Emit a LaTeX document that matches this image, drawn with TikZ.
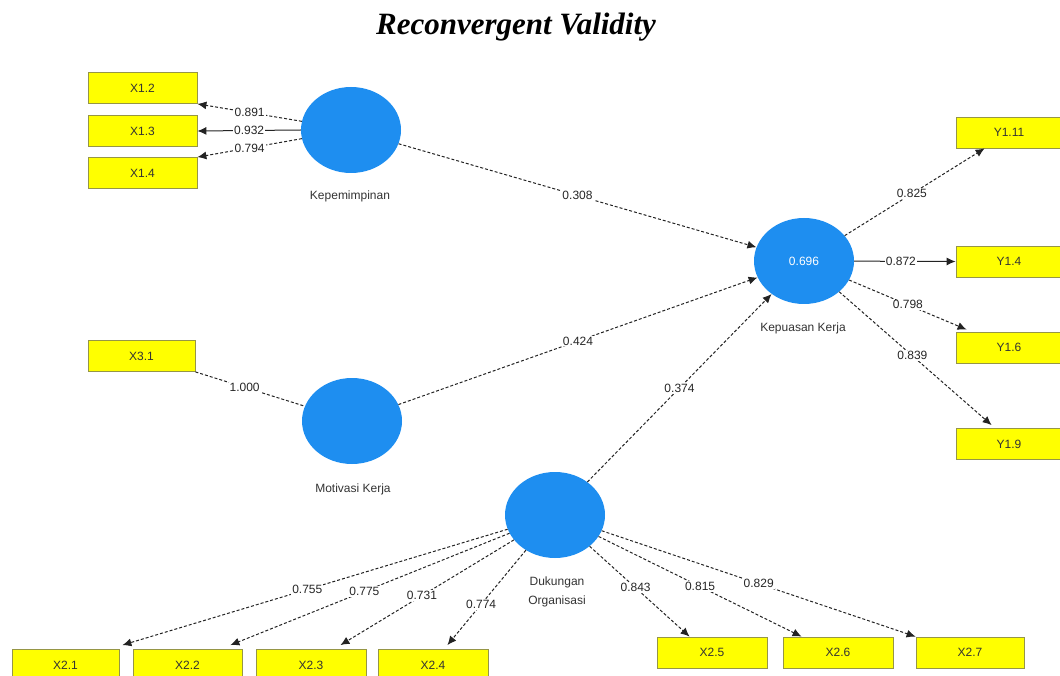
\documentclass[tikz,border=0pt]{standalone}
\usepackage{fontspec}
\setmainfont{Liberation Serif}
\setsansfont{Liberation Sans}
\usetikzlibrary{arrows.meta,shapes.geometric}
\definecolor{lvblue}{RGB}{30,142,240}
\definecolor{mvyellow}{RGB}{255,255,0}
\definecolor{mvborder}{RGB}{150,150,70}
\definecolor{lnk}{RGB}{35,35,35}
\begin{document}
\begin{tikzpicture}[x=1pt,y=-1pt,
  every node/.style={font=\sffamily\fontsize{12}{14}\selectfont},
  mv/.style={draw=mvborder,line width=0.8pt,fill=mvyellow,minimum height=31pt,inner sep=0pt,text=black!80},
  lv/.style={ellipse,fill=lvblue,minimum width=100pt,minimum height=86pt,inner sep=0pt},
  lvlab/.style={text=black!80,align=center},
  dsh/.style={draw=lnk,line width=1pt,dash pattern=on 3pt off 2pt},
  sol/.style={draw=lnk,line width=1pt},
  tip/.style={-{Latex[length=9pt,width=8pt]}},
  wt/.style={fill=white,inner sep=1pt,text=black!85}
]
\useasboundingbox (0,0) rectangle (1060,676);
\clip (0,0) rectangle (1060,676);

% title
\node[font=\rmfamily\bfseries\itshape\fontsize{31}{36}\selectfont] (title) at (516,27) {Reconvergent Validity};

% latent variables
\node[lv] (kep) at (351,130) {};
\node[lvlab] (kepl) at (350,196) {Kepemimpinan};
\node[lv] (mot) at (352,421) {};
\node[lvlab] (motl) at (353,489) {Motivasi Kerja};
\node[lv,text=white] (kpu) at (804,261) {0.696};
\node[lvlab] (kpul) at (803,328) {Kepuasan Kerja};
\node[lv] (duk) at (555,515) {};
\node[lvlab,font=\sffamily\fontsize{12}{19}\selectfont] (dukl) at (557,592) {Dukungan\\Organisasi};

% indicators
\node[mv,minimum width=109pt] (x12) at (142.5,88) {X1.2};
\node[mv,minimum width=109pt] (x13) at (142.5,131) {X1.3};
\node[mv,minimum width=109pt] (x14) at (142.5,173) {X1.4};
\node[mv,minimum width=107pt] (x31) at (141.5,356) {X3.1};
\node[mv,minimum width=106pt] (y111) at (1009,132.5) {Y1.11};
\node[mv,minimum width=106pt] (y14) at (1009,261.5) {Y1.4};
\node[mv,minimum width=106pt] (y16) at (1009,347.5) {Y1.6};
\node[mv,minimum width=106pt] (y19) at (1009,444) {Y1.9};
\node[mv,minimum width=107pt] (x21) at (65.5,665) {X2.1};
\node[mv,minimum width=109pt] (x22) at (187.5,665) {X2.2};
\node[mv,minimum width=110pt] (x23) at (311,665) {X2.3};
\node[mv,minimum width=110pt] (x24) at (433,665) {X2.4};
\node[mv,minimum width=110pt] (x25) at (712,652.5) {X2.5};
\node[mv,minimum width=110pt] (x26) at (838,652.5) {X2.6};
\node[mv,minimum width=108pt] (x27) at (970,652.5) {X2.7};

% Kepemimpinan loadings
\draw[dsh,tip] (kep.170) -- (x12.south east) node[wt,pos=0.5] {0.891};
\draw[sol,tip] (kep.west) -- (x13.east) node[wt,pos=0.5] {0.932};
\draw[dsh,tip] (kep.190) -- (x14.north east) node[wt,pos=0.5] {0.794};

% Motivasi loading
\draw[dsh] (x31.south east) -- (mot) node[wt,pos=0.45] {1.000};

% structural paths
\draw[dsh,tip] (kep) -- (kpu) node[wt,pos=0.5] {0.308};
\draw[dsh,tip] (mot) -- (kpu) node[wt,pos=0.5] {0.424};
\draw[dsh,tip] (duk) -- (kpu) node[wt,pos=0.5] {0.374};

% Kepuasan loadings
\coordinate (y111t) at ([xshift=29pt]y111.south west);
\coordinate (y16t) at ([xshift=11pt,yshift=2pt]y16.north west);
\coordinate (y19t) at ([xshift=36pt,yshift=3pt]y19.north west);
\draw[dsh,tip] (kpu) -- (y111t) node[wt,pos=0.48] {0.825};
\draw[sol,tip] (kpu) -- (y14.west) node[wt,pos=0.46] {0.872};
\draw[dsh,tip] (kpu) -- (y16t) node[wt,pos=0.5] {0.798};
\draw[dsh,tip] (kpu) -- (y19t) node[wt,pos=0.48] {0.839};

% Dukungan loadings
\coordinate (x21t) at ([xshift=3pt,yshift=4pt]x21.north east);
\coordinate (x22t) at ([xshift=-12pt,yshift=4pt]x22.north east);
\coordinate (x23t) at ([xshift=-26pt,yshift=4pt]x23.north east);
\coordinate (x24t) at ([xshift=-41pt,yshift=4pt]x24.north east);
\coordinate (x25t) at ([xshift=33pt]x25.north west);
\coordinate (x26t) at ([xshift=19pt]x26.north west);
\coordinate (x27t) at (x27.north west);
\draw[dsh,tip] (duk) -- (x21t) node[wt,pos=0.52] {0.755};
\draw[dsh,tip] (duk) -- (x22t) node[wt,pos=0.52] {0.775};
\draw[dsh,tip] (duk) -- (x23t) node[wt,pos=0.53] {0.731};
\draw[dsh,tip] (duk) -- (x24t) node[wt,pos=0.57] {0.774};
\draw[dsh,tip] (duk) -- (x25t) node[wt,pos=0.46] {0.843};
\draw[dsh,tip] (duk) -- (x26t) node[wt,pos=0.5] {0.815};
\draw[dsh,tip] (duk) -- (x27t) node[wt,pos=0.5] {0.829};
\end{tikzpicture}
\end{document}
